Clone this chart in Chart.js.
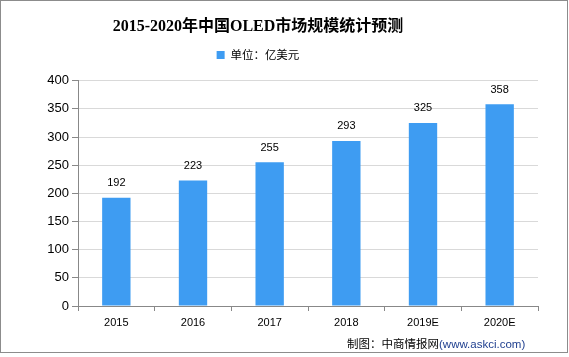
<!DOCTYPE html>
<html><head><meta charset="utf-8">
<script src="https://cdn.jsdelivr.net/npm/chart.js@4"></script>
<style>
html,body{margin:0;padding:0;background:#fff;}
#wrap{position:relative;width:569px;height:357px;}
#frame{position:absolute;left:0;top:0;width:566px;height:351px;border:1px solid #8c8c8c;pointer-events:none;}
#src{position:absolute;left:347px;top:336px;font:11.5px "Noto Sans CJK SC","Liberation Sans",sans-serif;color:#000;white-space:nowrap;line-height:14px;}
#src span{color:#1f3f8f;font-family:"Liberation Sans",sans-serif;font-size:11.5px;}
</style></head>
<body>
<div id="wrap">
<canvas id="c" width="569" height="357"></canvas>
<div id="frame"></div>
<div id="src">制图：中商情报网<span>(www.askci.com)</span></div>
</div>
<script>
const categories = ["2015","2016","2017","2018","2019E","2020E"];
const marketSize = [192,223,255,293,325,358];
const seriesName = "单位：亿美元";
const yTicks = {min:0,max:400,step:50};

const labelPlugin = {
  id:'barLabels',
  afterDatasetsDraw(chart){
    const ctx = chart.ctx;
    const meta = chart.getDatasetMeta(0);
    ctx.save();
    ctx.font = '11px "Liberation Sans", sans-serif';
    ctx.fillStyle = '#000';
    ctx.textAlign = 'center';
    ctx.textBaseline = 'bottom';
    meta.data.forEach((bar,i)=>{
      ctx.fillText(String(marketSize[i]), bar.x, bar.y - 9);
    });
    ctx.restore();
  }
};

new Chart(document.getElementById('c'), {
  type:'bar',
  data:{
    labels:categories,
    datasets:[{
      label:seriesName,
      data:marketSize,
      backgroundColor:'#3e9cf2',
      borderWidth:0,
      barPercentage:0.37,
      categoryPercentage:1.0
    }]
  },
  options:{
    responsive:false,
    animation:false,
    devicePixelRatio:1,
    layout:{padding:{left:-22,right:31,top:0,bottom:0}},
    plugins:{
      title:{
        display:true,
        text:'2015-2020年中国OLED市场规模统计预测',
        color:'#000',
        font:{family:'"Liberation Serif","Noto Sans CJK SC",serif',size:16,weight:'bold'},
        padding:{top:17,bottom:-6}
      },
      legend:{
        display:true,
        labels:{
          boxWidth:8,boxHeight:8,
          color:'#000',
          font:{family:'"Noto Sans CJK SC",sans-serif',size:11.5},
          padding:19
        }
      },
      tooltip:{enabled:false}
    },
    scales:{
      x:{
        offset:true,
        grid:{display:true,drawOnChartArea:false,drawTicks:true,tickLength:5,tickColor:'#888',offset:true},
        border:{display:true,color:'#888',width:1},
        ticks:{color:'#000',font:{family:'"Liberation Sans",sans-serif',size:11},padding:5,maxRotation:0},
        afterFit(s){ s.height = 51; }
      },
      xTop:{
        type:'category',
        position:'top',
        display:true,
        grid:{display:false},
        border:{display:false},
        ticks:{display:false},
        afterFit(s){ s.height = 10; }
      },
      y:{
        min:yTicks.min,max:yTicks.max,
        ticks:{stepSize:yTicks.step,color:'#000',font:{family:'"Liberation Sans",sans-serif',size:13},padding:3},
        grid:{color:'#d9d9d9',tickColor:'#888',tickLength:6},
        border:{display:true,color:'#888',width:1},
        afterFit(s){ s.width = 100; }
      }
    }
  },
  plugins:[labelPlugin]
});
</script>
</body></html>
